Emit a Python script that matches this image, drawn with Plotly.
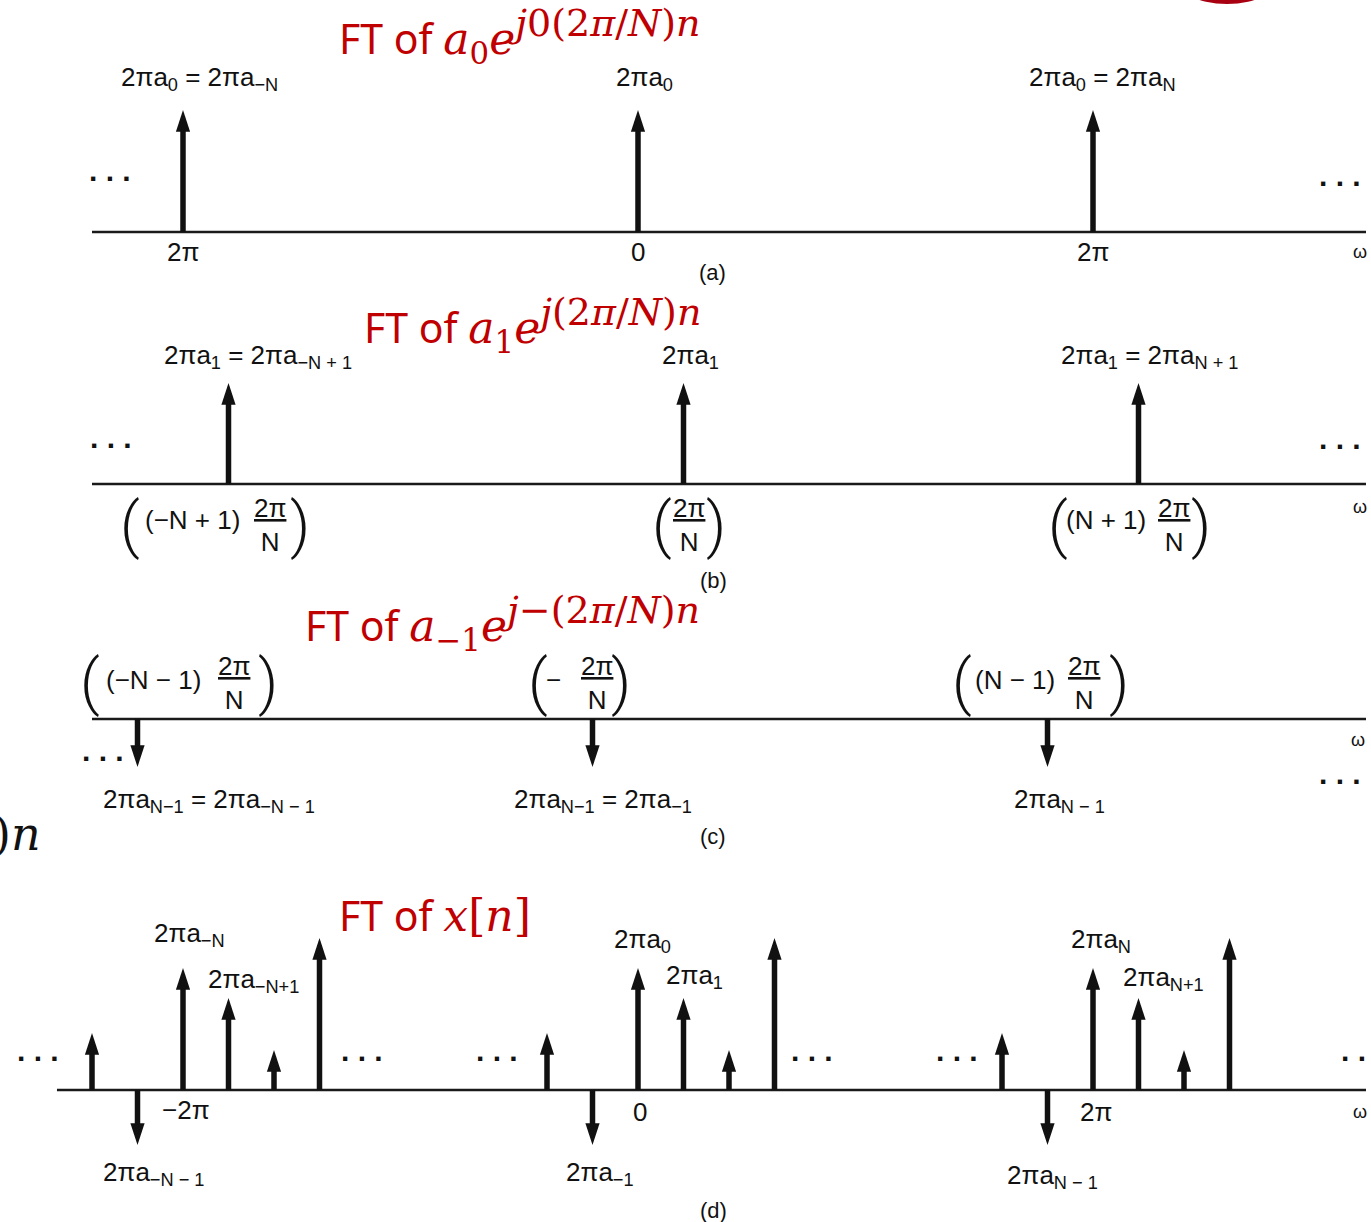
import plotly.graph_objects as go

# ---------------- data (impulse locations in units of 2*pi/N, N = 10) ----------------
N = 10
a_n = [-10, 0, 10]
a_h = [122, 122, 122]
b_n = [-9, 1, 11]
b_h = [101, 101, 101]
c_n = [-11, -1, 9]
c_h = [-48, -48, -48]
d_n = [-12, -11, -10, -9, -8, -7, -2, -1, 0, 1, 2, 3, 8, 9, 10, 11, 12, 13]
d_h = [57, -55, 122, 92, 40, 152, 57, -55, 122, 92, 40, 152, 57, -55, 122, 92, 40, 152]

# ---------------- layout constants ----------------
W, H = 1371, 1222
PX0, STEP = 638.0, 45.5            # pixel of omega = 0, pixels per 2*pi/N
XR = [-PX0 / STEP, (W - PX0) / STEP]
# panel pixel rows (top, baseline, bottom)
panels = {"y": (0, 232, 290), "y2": (290, 484, 600), "y3": (600, 719, 860), "y4": (860, 1090, 1222)}
base_ext = {"y": (-12.0, 16.0), "y2": (-12.0, 16.0), "y3": (-12.0, 16.0), "y4": (-12.77, 16.0)}

BLACK = "#111111"
RED = "#C00000"
SANS = "Liberation Sans, Arial, sans-serif"
SERIF = "DejaVu Serif"
LS = 26  # label font size

fig = go.Figure()


def add_impulses(ns, hs, yref):
    xs, ys, hx, hy, ang = [], [], [], [], []
    for n, h in zip(ns, hs):
        sgn = 1 if h > 0 else -1
        xs += [n, n, None]
        ys += [0, h - sgn * 10, None]
        hx.append(n)
        hy.append(h)
        ang.append(0 if h > 0 else 180)
    fig.add_trace(go.Scatter(x=xs, y=ys, mode="lines", yaxis=yref,
                             line=dict(color=BLACK, width=5.5), hoverinfo="skip", showlegend=False))
    fig.add_trace(go.Scatter(x=hx, y=hy, mode="markers", yaxis=yref,
                             marker=dict(symbol="arrow", size=23, angle=ang, color=BLACK,
                                         line=dict(width=0)),
                             hoverinfo="skip", showlegend=False))


def add_baseline(yref):
    x0, x1 = base_ext[yref]
    fig.add_trace(go.Scatter(x=[x0, x1], y=[0, 0], mode="lines", yaxis=yref,
                             line=dict(color="#1a1a1a", width=2.5), hoverinfo="skip", showlegend=False))


for yr in panels:
    add_baseline(yr)
add_impulses(a_n, a_h, "y")
add_impulses(b_n, b_h, "y2")
add_impulses(c_n, c_h, "y3")
add_impulses(d_n, d_h, "y4")

ann = []


def lab(text, x, y, yref, size=LS, xanchor="center", family=SANS, color=BLACK, weight=None):
    f = dict(family=family, size=size, color=color)
    if weight is not None:
        f["weight"] = weight
    ann.append(dict(text=text, x=x, y=y, xref="x", yref=yref, showarrow=False,
                    xanchor=xanchor, yanchor="middle", font=f))


def M(s, size=44):
    return '<span style="font-family:DejaVu Serif;font-size:%dpx">%s</span>' % (size, s)


def S(s, size=38):
    return '<span style="font-size:%dpx">%s</span>' % (size, s)


def paren(ch, x, y, yref):
    lab(ch, x, y, yref, size=62, family="Roboto", weight=300)


def dots(x, y, yref):
    lab(". . .", x, y, yref, size=30, weight="bold")


FR = "<u>2π</u><br>N"

# ---- panel (a)
lab("FT of " + M("<i>a</i><sub>0</sub><i>e</i><sup>" + S("<i>j</i>0(2<i>π</i>/<i>N</i>)<i>n</i>") + "</sup>"),
    -6.62, 196, "y", size=41, xanchor="left", family="Noto Sans", color=RED)
lab("2πa<sub>0</sub> = 2πa<sub>−N</sub>", -9.64, 154, "y")
lab("2πa<sub>0</sub>", 0.15, 154, "y")
lab("2πa<sub>0</sub> = 2πa<sub>N</sub>", 10.2, 154, "y")
lab("2π", -10, -20, "y")
lab("0", 0, -20, "y")
lab("2π", 10, -20, "y")
lab("ω", 15.87, -20, "y", size=18)
lab("(a)", 1.63, -40, "y", size=22)
dots(-11.6, 62, "y")
dots(15.43, 57, "y")

# ---- panel (b)
lab("FT of " + M("<i>a</i><sub>1</sub><i>e</i><sup>" + S("<i>j</i>(2<i>π</i>/<i>N</i>)<i>n</i>") + "</sup>"),
    -6.07, 159, "y2", size=41, xanchor="left", family="Noto Sans", color=RED)
lab("2πa<sub>1</sub> = 2πa<sub>−N + 1</sub>", -8.35, 127, "y2")
lab("2πa<sub>1</sub>", 1.16, 127, "y2")
lab("2πa<sub>1</sub> = 2πa<sub>N + 1</sub>", 11.25, 127, "y2")
lab("(−N + 1)", -9.80, -36, "y2")
lab(FR, -8.09, -41, "y2")
lab(FR, 1.12, -41, "y2")
lab("(N + 1)", 10.29, -36, "y2")
lab(FR, 11.78, -41, "y2")
paren("(", -11.16, -40, "y2")
paren(")", -7.43, -40, "y2")
paren("(", 0.53, -40, "y2")
paren(")", 1.71, -40, "y2")
paren("(", 9.23, -40, "y2")
paren(")", 12.37, -40, "y2")
lab("ω", 15.87, -23, "y2", size=18)
lab("(b)", 1.65, -96, "y2", size=22)
dots(-11.58, 46, "y2")
dots(15.43, 45, "y2")

# ---- panel (c)
lab("FT of " + M("<i>a</i><sub>−1</sub><i>e</i><sup>" + S("<i>j</i>−(2<i>π</i>/<i>N</i>)<i>n</i>") + "</sup>"),
    -7.36, 96, "y3", size=41, xanchor="left", family="Noto Sans", color=RED)
lab("(−N − 1)", -10.64, 39, "y3")
lab(FR, -8.88, 36, "y3")
lab("−", -1.85, 39, "y3")
lab(FR, -0.90, 36, "y3")
lab("(N − 1)", 8.29, 39, "y3")
lab(FR, 9.80, 36, "y3")
paren("(", -12.04, 38, "y3")
paren(")", -8.13, 38, "y3")
paren("(", -2.20, 38, "y3")
paren(")", -0.37, 38, "y3")
paren("(", 7.12, 38, "y3")
paren(")", 10.57, 38, "y3")
lab("2πa<sub>N−1</sub> = 2πa<sub>−N − 1</sub>", -9.43, -81, "y3")
lab("2πa<sub>N−1</sub> = 2πa<sub>−1</sub>", -0.77, -81, "y3")
lab("2πa<sub>N − 1</sub>", 9.27, -81, "y3")
dots(-11.76, -31, "y3")
dots(15.43, -54, "y3")
lab("ω", 15.82, -21, "y3", size=18)
lab("(c)", 1.65, -117, "y3", size=22)

# ---- panel (d)
lab("FT of " + M("<i>x</i>[<i>n</i>]"), -6.62, 175, "y4", size=41, xanchor="left",
    family="Noto Sans", color=RED)
lab("2πa<sub>−N</sub>", -9.85, 156, "y4")
lab("2πa<sub>−N+1</sub>", -8.46, 110, "y4")
lab("2πa<sub>0</sub>", 0.09, 150, "y4")
lab("2πa<sub>1</sub>", 1.25, 114, "y4")
lab("2πa<sub>N</sub>", 10.18, 150, "y4")
lab("2πa<sub>N+1</sub>", 11.54, 112, "y4")
lab("−2π", -9.93, -20, "y4")
lab("0", 0.04, -22, "y4")
lab("2π", 10.07, -22, "y4")
lab("ω", 15.87, -22, "y4", size=18)
lab("2πa<sub>−N − 1</sub>", -10.64, -83, "y4")
lab("2πa<sub>−1</sub>", -0.84, -83, "y4")
lab("2πa<sub>N − 1</sub>", 9.12, -86, "y4")
for xd in (-13.19, -6.07, -3.10, 3.82, 7.01, 15.91):
    dots(xd, 40, "y4")
lab("(d)", 1.65, -120, "y4", size=22)

# stray fragments visible at the edges of the reference
ann.append(dict(text=")<i>n</i>", x=0, y=1 - 834 / H, xref="paper", yref="paper", showarrow=False,
                xanchor="left", yanchor="middle", xshift=-9,
                font=dict(family=SERIF, size=46, color=BLACK)))

shapes = [dict(type="circle", xref="paper", yref="paper", x0=1172 / W, x1=1282 / W,
               y0=1 - 4 / H, y1=1 + 56 / H, fillcolor="#A80010", line=dict(width=0))]

layout = dict(width=W, height=H, autosize=False, margin=dict(l=0, r=0, t=0, b=0),
              paper_bgcolor="white", plot_bgcolor="white", showlegend=False,
              annotations=ann, shapes=shapes,
              xaxis=dict(range=XR, visible=False, domain=[0, 1], anchor="y", fixedrange=True))
names = ["yaxis", "yaxis2", "yaxis3", "yaxis4"]
for name, (yr, (top, base, bot)) in zip(names, panels.items()):
    layout[name] = dict(range=[-(bot - base), base - top], visible=False,
                        domain=[1 - bot / H, 1 - top / H], anchor="x", fixedrange=True)
fig.update_layout(**layout)
fig.write_html("out.html", config={"displayModeBar": False},
               post_script="document.body.style.margin='0px';document.body.style.overflow='hidden';")
